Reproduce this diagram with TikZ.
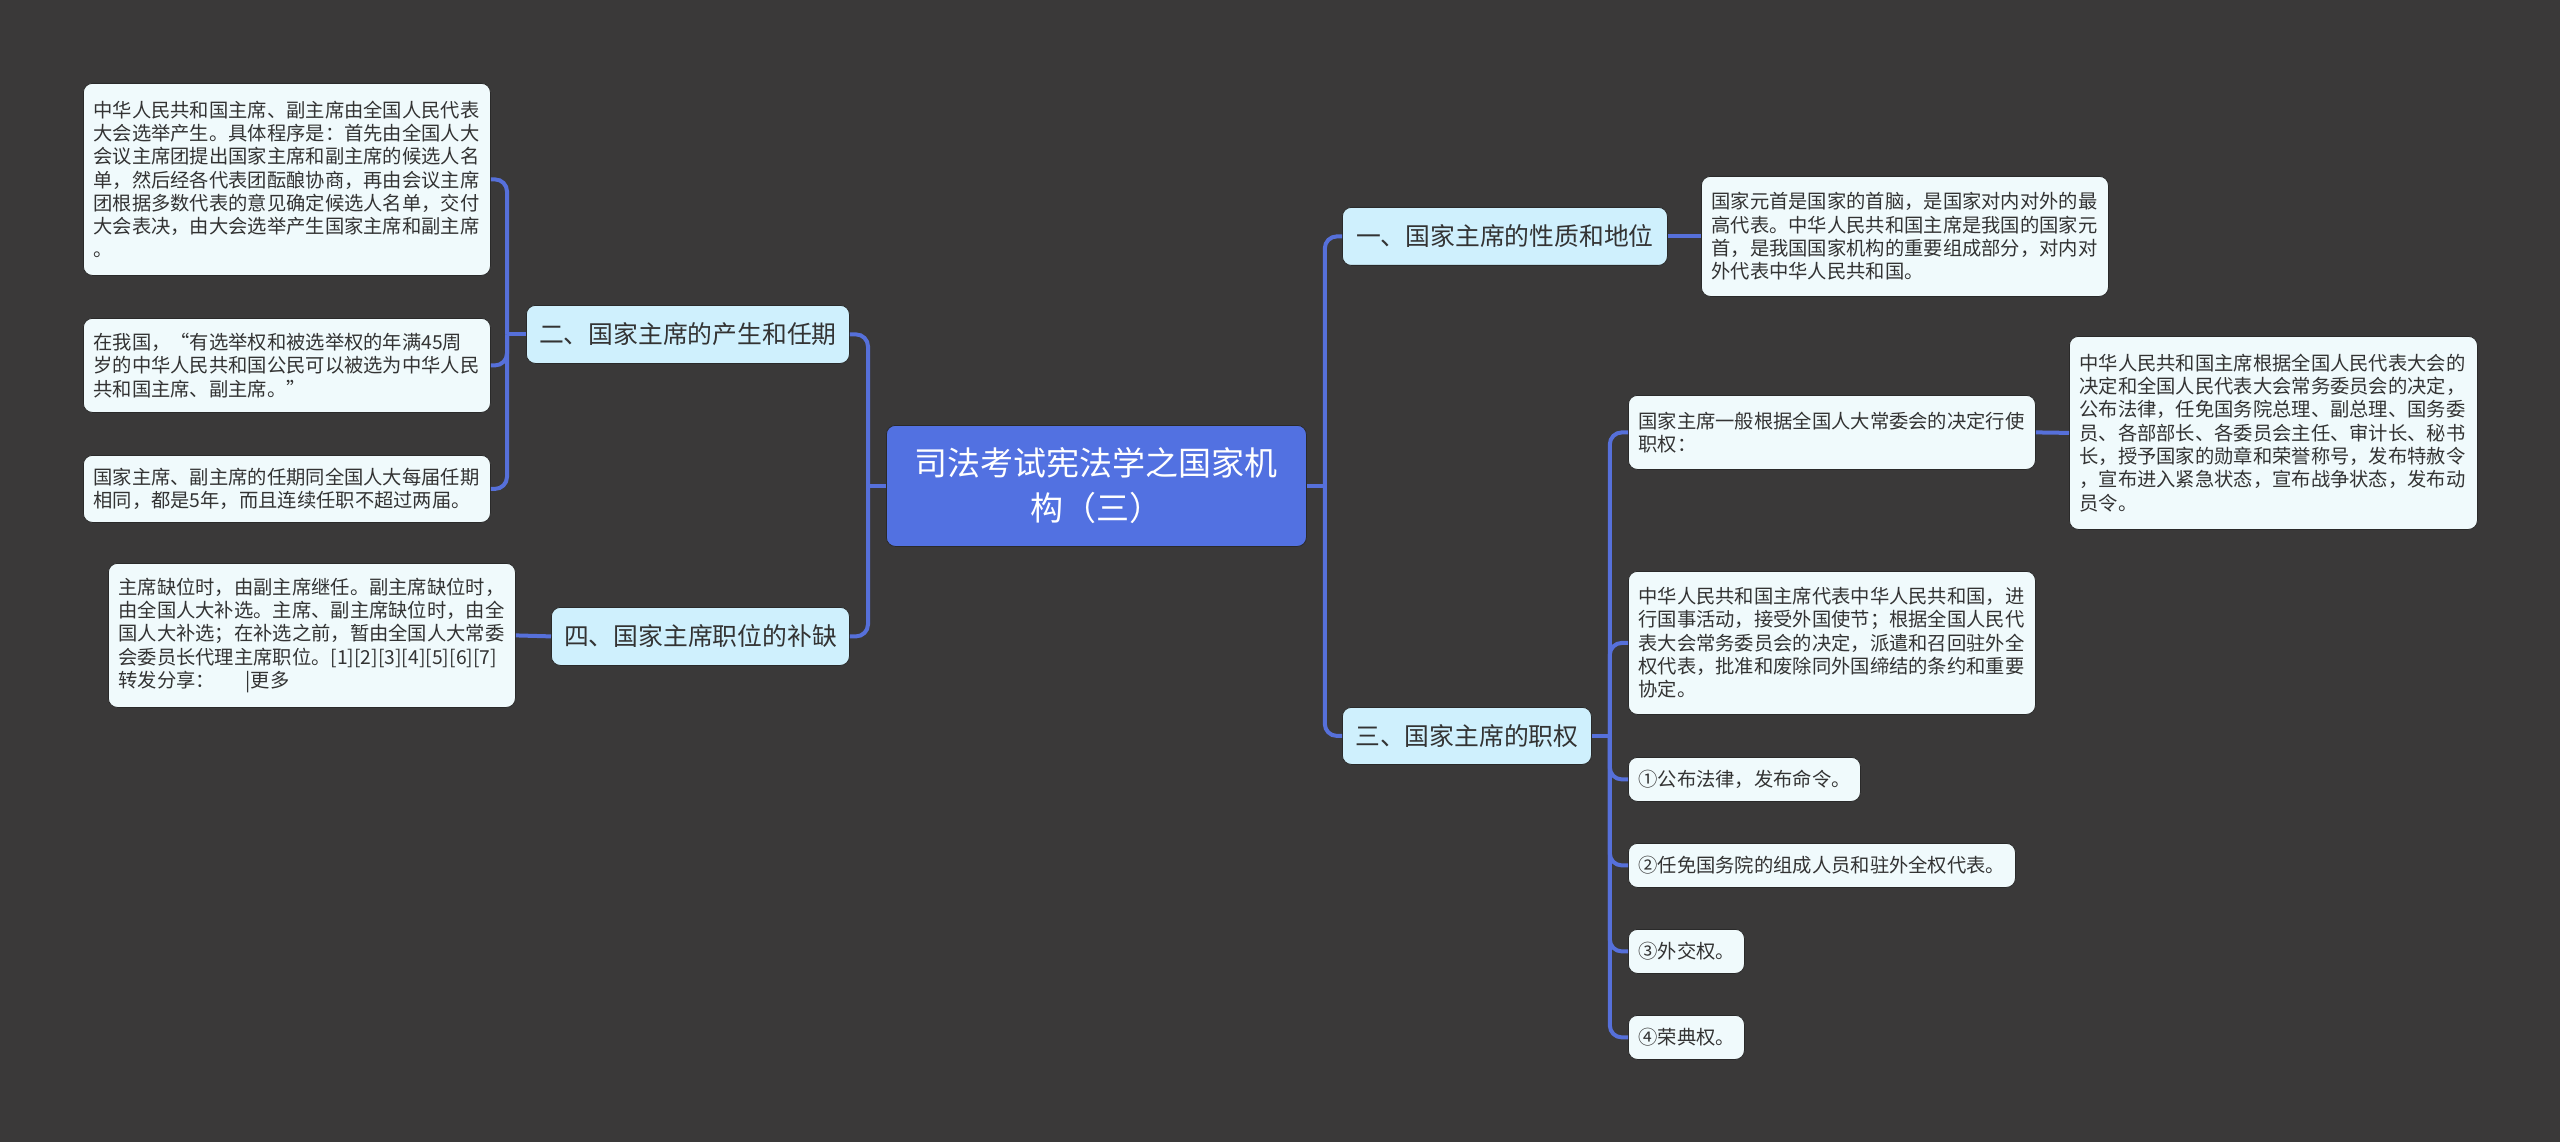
\documentclass[tikz,border=0pt]{standalone}
\usepackage{fontspec}
\setmainfont{Noto Sans CJK SC}
\definecolor{bg}{HTML}{3A3939}
\definecolor{rootc}{HTML}{5271E1}
\definecolor{lvone}{HTML}{CFF0FD}
\definecolor{leafc}{HTML}{F0FAFC}
\definecolor{linec}{HTML}{5670DA}
\definecolor{txt}{HTML}{333333}
\definecolor{edge}{HTML}{2A2A2A}
\begin{document}
\begin{tikzpicture}[x=1pt,y=-1pt,
  box/.style={anchor=north west, rounded corners=9pt, draw=edge, line width=0.8pt, inner ysep=0pt},
  leaf/.style={box, fill=leafc, text=txt, align=left, inner xsep=10pt,
    font=\fontsize{19.3}{23.3}\selectfont},
  lvbox/.style={box, fill=lvone, text=txt, align=center, inner xsep=0pt,
    font=\fontsize{24.8}{30}\selectfont},
  rootbox/.style={box, fill=rootc, text=white, align=center, inner xsep=0pt,
    font=\fontsize{33}{45}\selectfont},
  conn/.style={draw=linec, line width=4pt},
  rc/.style={rounded corners=12pt}
]
\fill[bg] (0,0) rectangle (2560,1142);
\useasboundingbox (0,0) rectangle (2560,1142);

% root
\node[rootbox, minimum width=420, minimum height=121] (root) at (886,425)
  {司法考试宪法学之国家机\\构（三）};

% level one
\node[lvbox, minimum width=325, minimum height=58] (n1) at (1342,207) {一、国家主席的性质和地位};
\node[lvbox, minimum width=323, minimum height=58] (n2) at (526,305) {二、国家主席的产生和任期};
\node[lvbox, minimum width=249, minimum height=57] (n3) at (1342,707) {三、国家主席的职权};
\node[lvbox, minimum width=298, minimum height=58] (n4) at (551,607) {四、国家主席职位的补缺};

% left leaves
\node[leaf, text width=387, minimum height=192] (l1) at (83,83)
  {中华人民共和国主席、副主席由全国人民代表\\
   大会选举产生。具体程序是：首先由全国人大\\
   会议主席团提出国家主席和副主席的候选人名\\
   单，然后经各代表团酝酿协商，再由会议主席\\
   团根据多数代表的意见确定候选人名单，交付\\
   大会表决，由大会选举产生国家主席和副主席\\
   。};
\node[leaf, text width=387, minimum height=94] (l2) at (83,318)
  {在我国，“有选举权和被选举权的年满45周\\
   岁的中华人民共和国公民可以被选为中华人民\\
   共和国主席、副主席。”};
\node[leaf, text width=387, minimum height=67] (l3) at (83,455)
  {国家主席、副主席的任期同全国人大每届任期\\
   相同，都是5年，而且连续任职不超过两届。};
\node[leaf, text width=387, minimum height=144] (l4) at (108,563)
  {主席缺位时，由副主席继任。副主席缺位时，\\
   由全国人大补选。主席、副主席缺位时，由全\\
   国人大补选；在补选之前，暂由全国人大常委\\
   会委员长代理主席职位。[1][2][3][4][5][6][7]\\
   转发分享：\hspace{1.6em}|更多};

% right leaves
\node[leaf, text width=387, minimum height=120] (r1) at (1701,176)
  {国家元首是国家的首脑，是国家对内对外的最\\
   高代表。中华人民共和国主席是我国的国家元\\
   首，是我国国家机构的重要组成部分，对内对\\
   外代表中华人民共和国。};
\node[leaf, text width=387, minimum height=74] (a) at (1628,395)
  {国家主席一般根据全国人大常委会的决定行使\\
   职权：};
\node[leaf, text width=388, minimum height=193] (al) at (2069,336)
  {中华人民共和国主席根据全国人民代表大会的\\
   决定和全国人民代表大会常务委员会的决定，\\
   公布法律，任免国务院总理、副总理、国务委\\
   员、各部部长、各委员会主任、审计长、秘书\\
   长，授予国家的勋章和荣誉称号，发布特赦令\\
   ，宣布进入紧急状态，宣布战争状态，发布动\\
   员令。};
\node[leaf, text width=387, minimum height=143] (b) at (1628,571)
  {中华人民共和国主席代表中华人民共和国，进\\
   行国事活动，接受外国使节；根据全国人民代\\
   表大会常务委员会的决定，派遣和召回驻外全\\
   权代表，批准和废除同外国缔结的条约和重要\\
   协定。};
\node[leaf, text width=212, minimum height=44] (c) at (1628,757) {①公布法律，发布命令。};
\node[leaf, text width=367, minimum height=44] (d) at (1628,843) {②任免国务院的组成人员和驻外全权代表。};
\node[leaf, text width=96, minimum height=44] (e) at (1628,929) {③外交权。};
\node[leaf, text width=96, minimum height=44] (f) at (1628,1015) {④荣典权。};

% bus coordinates
\path (root.west) ++(-18,0) coordinate (bl);
\path (root.east) ++(18,0) coordinate (br);
\path (n2.west) ++(-19,0) coordinate (b2);
\path (n3.east) ++(18,0) coordinate (b3);

% connectors
\draw[conn] (root.west) -- (bl);
\draw[conn, rc] (bl) |- (n2.east);
\draw[conn, rc] (bl) |- (n4.east);
\draw[conn] (root.east) -- (br);
\draw[conn, rc] (br) |- (n1.west);
\draw[conn, rc] (br) |- (n3.west);

\draw[conn] (n2.west) -- (b2);
\draw[conn, rc] (b2) |- (l1.east);
\draw[conn, rc] (b2) |- (l2.east);
\draw[conn, rc] (b2) |- (l3.east);
\draw[conn] (n4.west) -- (l4.east);

\draw[conn] (n1.east) -- (r1.west);
\draw[conn] (n3.east) -- (b3);
\draw[conn, rc] (b3) |- (a.west);
\draw[conn, rc] (b3) |- (b.west);
\draw[conn, rc] (b3) |- (c.west);
\draw[conn, rc] (b3) |- (d.west);
\draw[conn, rc] (b3) |- (e.west);
\draw[conn, rc] (b3) |- (f.west);
\draw[conn] (a.east) -- (al.west);
\end{tikzpicture}
\end{document}
